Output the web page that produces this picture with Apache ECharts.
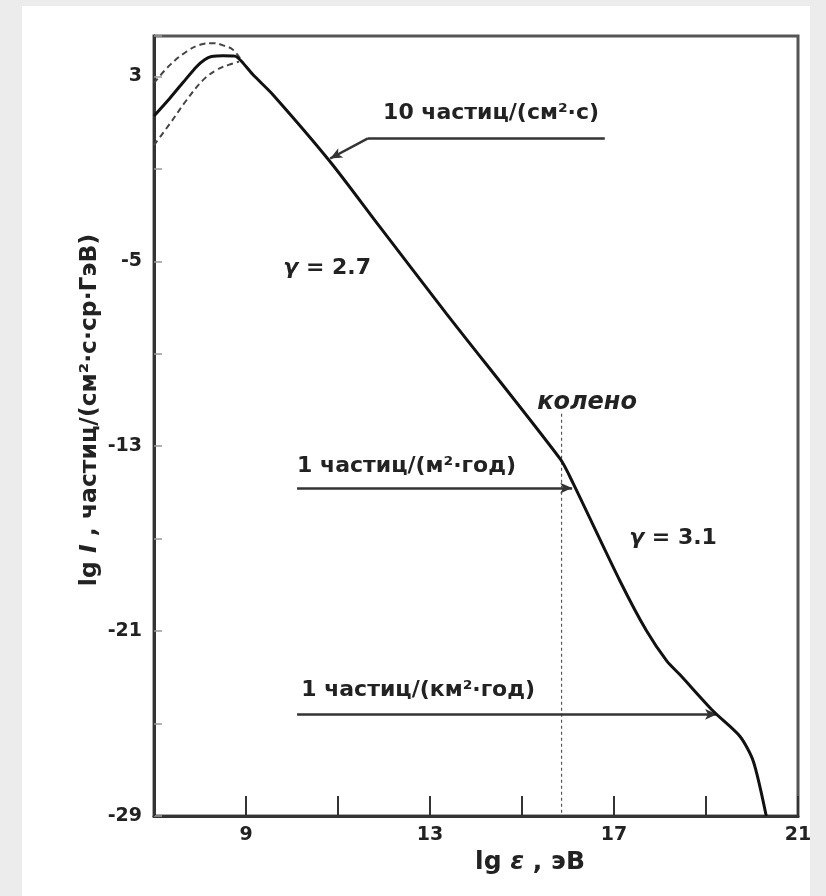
<!DOCTYPE html>
<html><head><meta charset="utf-8">
<script src="https://cdn.jsdelivr.net/npm/echarts@6/dist/echarts.min.js"></script>
<style>
html,body{margin:0;padding:0;background:#ececec;}
#panel{position:absolute;left:22px;top:6px;width:788px;height:890px;background:#fff;}
#chart{position:absolute;left:0;top:0;width:826px;height:896px;}
</style></head><body>
<div id="panel"></div><div id="chart"></div>
<script>
// axis tick labels
const xLabelValues = [9, 13, 17, 21];
const yLabelValues = [-29, -21, -13, -5, 3];

// main spectrum (lg ε, lg I)
const spectrum = [
  [7.0, 1.29], [7.35, 2.07], [7.64, 2.76], [7.93, 3.43], [8.1, 3.72], [8.25, 3.86],
  [8.5, 3.9], [8.76, 3.88], [8.9, 3.66], [9.15, 3.08], [9.59, 2.2], [10.83, -0.69],
  [11.91, -3.51], [13.36, -7.27], [15.83, -13.55], [16.12, -14.64], [17.13, -18.83],
  [17.71, -21.0], [18.15, -22.3], [18.43, -22.88], [19.16, -24.47], [19.74, -25.56],
  [20.03, -26.64], [20.31, -29.0]
];
// dashed envelope
const upperDashed = [
  [7.0, 2.72], [7.35, 3.5], [7.71, 4.08], [8.0, 4.37], [8.29, 4.44], [8.54, 4.32],
  [8.72, 4.15], [8.95, 3.55]
];
const lowerDashed = [
  [7.0, 0.03], [7.35, 0.97], [7.71, 1.98], [8.07, 2.85], [8.36, 3.28], [8.62, 3.5],
  [8.85, 3.64]
];
// knee marker
const kneeLine = [[15.86, -11.59], [15.86, -29]];
// flux arrows
const arrow10 = [[16.80, 0.32], [11.65, 0.32], [10.83, -0.55]];
const arrowM2 = [[10.11, -14.81], [16.09, -14.81]];
const arrowKm2 = [[10.11, -24.6], [19.24, -24.6]];
// annotation texts and anchors (data coords, left-middle)
const annotationTexts = ['10 частиц/(см²·с)', '1 частиц/(м²·год)', '1 частиц/(км²·год)', 'колено', 'γ = 2.7', 'γ = 3.1'];
const annotationAnchors = [[11.98, 1.42], [10.11, -13.85], [10.2, -23.56], [15.33, -11.12], [9.81, -5.32], [17.33, -16.97]];

const FONT = 'DejaVu Sans';
const chart = echarts.init(document.getElementById('chart'), null, {renderer: 'canvas'});

function seg(a, b, arrow) {
  return [{coord: a, symbol: 'none'}, {coord: b, symbol: arrow ? 'arrow' : 'none'}];
}

const option = {
  backgroundColor: 'transparent',
  animation: false,
  grid: {left: 154, right: 28, top: 36, bottom: 80, show: true, borderColor: '#555', borderWidth: 3, backgroundColor: 'transparent'},
  xAxis: {
    type: 'value', min: 7, max: 21, interval: 2,
    axisLine: {show: true, onZero: false, lineStyle: {color: '#333', width: 3}},
    axisTick: {show: true, inside: true, length: 20, lineStyle: {color: '#333', width: 2}},
    splitLine: {show: false},
    axisLabel: {
      margin: 10, color: '#222', fontFamily: FONT, fontWeight: 'bold', fontSize: 19,
      formatter: v => xLabelValues.includes(v) ? String(v) : ''
    }
  },
  yAxis: {
    type: 'value', min: -29, max: 4.75, interval: 4,
    axisLine: {show: true, onZero: false, lineStyle: {color: '#333', width: 3}},
    axisTick: {show: true, inside: true, length: 8, lineStyle: {color: '#999', width: 1.5}},
    splitLine: {show: false},
    axisLabel: {
      margin: 12, color: '#222', fontFamily: FONT, fontWeight: 'bold', fontSize: 19,
      formatter: v => yLabelValues.includes(v) ? String(v) : ''
    }
  },
  series: [
    {type: 'line', data: upperDashed, showSymbol: false, smooth: 0.4, z: 3,
     lineStyle: {color: '#444', width: 2, type: [6, 4]}},
    {type: 'line', data: lowerDashed, showSymbol: false, smooth: 0.4, z: 3,
     lineStyle: {color: '#444', width: 2, type: [6, 4]}},
    {type: 'line', data: kneeLine, showSymbol: false, z: 2,
     lineStyle: {color: '#555', width: 1.2, type: [3, 3]}},
    {type: 'line', data: spectrum, showSymbol: false, smooth: 0.25, z: 5,
     lineStyle: {color: '#111', width: 3}},
    {type: 'line', data: [], z: 4,
     markLine: {
       silent: true, animation: false, symbolSize: [8, 12],
       label: {show: false},
       lineStyle: {color: '#333', width: 2.5, type: 'solid'},
       emphasis: {disabled: true},
       data: [
         seg(arrow10[0], arrow10[1], false),
         seg(arrow10[1], arrow10[2], true),
         seg(arrowM2[0], arrowM2[1], true),
         seg(arrowKm2[0], arrowKm2[1], true)
       ]
     }}
  ]
};
chart.setOption(option);

function richFor(size) {
  return {
    n: {fontFamily: FONT, fontWeight: 'bold', fontSize: size, fill: '#222'},
    i: {fontFamily: FONT, fontWeight: 'bold', fontStyle: 'italic', fontSize: size, fill: '#222'}
  };
}

const graphics = annotationTexts.map((t, k) => {
  const p = chart.convertToPixel({gridIndex: 0}, annotationAnchors[k]);
  const italic = (t === 'колено');
  const txt = t.startsWith('γ') ? '{i|γ}{n|' + t.slice(1) + '}' : (italic ? '{i|' + t + '}' : '{n|' + t + '}');
  return {
    type: 'text', x: p[0], y: p[1], z: 10,
    style: {text: txt, align: 'left', verticalAlign: 'middle', rich: richFor(italic ? 24 : 22)}
  };
});
// axis titles
graphics.push({
  type: 'text', x: 530, y: 862, z: 10,
  style: {text: '{n|lg }{i|ε}{n| , эВ}', align: 'center', verticalAlign: 'middle', rich: richFor(25)}
});
graphics.push({
  type: 'text', x: 90, y: 410, rotation: Math.PI / 2, z: 10,
  style: {text: '{n|lg }{i|I}{n| , частиц/(см²·с·ср·ГэВ)}', align: 'center', verticalAlign: 'middle', rich: richFor(23.5)}
});
chart.setOption({graphic: graphics});
</script>
</body></html>
